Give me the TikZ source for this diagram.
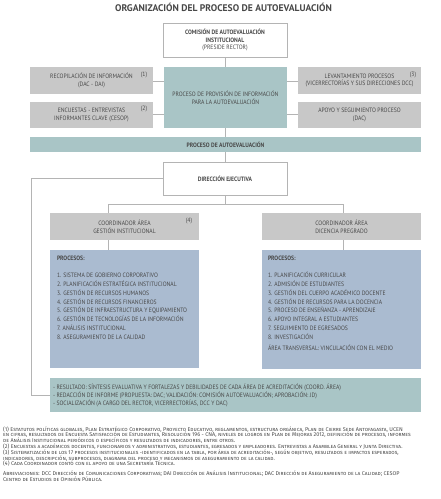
\documentclass[tikz,border=0pt]{standalone}
\usepackage{fontspec}
\newfontfamily\cnd[FakeStretch=0.9]{PT Sans}
\newfontfamily\ttl{PT Sans}
\newfontfamily\fnt[Letters=SmallCaps]{Fira Sans}
\definecolor{boxgray}{RGB}{200,200,200}
\definecolor{tealc}{RGB}{169,197,198}
\definecolor{bluec}{RGB}{170,187,208}
\definecolor{linec}{RGB}{180,180,180}
\definecolor{txtc}{RGB}{72,72,72}
\tikzset{
  bx/.style={inner sep=0pt, outer sep=0pt, align=center, font=\cnd\fontsize{6.3}{7.8}\selectfont, text=txtc},
  gbox/.style={bx, fill=boxgray},
  tbox/.style={bx, fill=tealc},
  bbox/.style={bx, fill=bluec},
  wbox/.style={bx, draw=linec, line width=0.8pt, fill=white},
  ln/.style={draw=linec, line width=0.8pt},
  lst/.style={inner sep=0pt, outer sep=0pt, align=left, anchor=north west, font=\cnd\fontsize{6.3}{8.8}\selectfont, text=txtc},
  note/.style={inner sep=0pt, font=\cnd\fontsize{6.3}{7}\selectfont, text=txtc},
  fn/.style={inner sep=0pt, anchor=base west, font=\fnt\fontsize{5.45}{5.8}\selectfont, text=txtc}
}
\begin{document}
\begin{tikzpicture}[x=1pt,y=-1pt]
\useasboundingbox (0,0) rectangle (440,499);
\node[inner sep=0pt, font=\ttl\bfseries\fontsize{9.6}{11}\selectfont, text=txtc] (title) at (223.5,7) {ORGANIZACIÓN DEL PROCESO DE AUTOEVALUACIÓN};

\node[wbox, minimum width=124pt, minimum height=34pt] (com) at (225,40) {\textbf{COMISIÓN DE AUTOEVALUACIÓN}\\\textbf{INSTITUCIONAL}\\(PRESIDE RECTOR)};

\node[gbox, minimum width=123pt, minimum height=27pt] (rec) at (91.5,80.5) {RECOPILACIÓN DE INFORMACIÓN\\(DAC - DAI)};
\node[gbox, minimum width=123pt, minimum height=26pt] (enc) at (91.5,115) {ENCUESTAS - ENTREVISTAS\\INFORMANTES CLAVE (CESOP)};
\node[tbox, minimum width=123pt, minimum height=61pt] (prov) at (225.5,97.5) {PROCESO DE PROVISIÓN DE INFORMACIÓN\\PARA LA AUTOEVALUACIÓN};
\node[gbox, minimum width=123pt, minimum height=27pt] (lev) at (359.5,80.5) {LEVANTAMIENTO PROCESOS\\(VICERRECTORÍAS Y SUS DIRECCIONES DCC)};
\node[gbox, minimum width=123pt, minimum height=26pt] (apo) at (359.5,115) {APOYO Y SEGUIMIENTO PROCESO\\(DAC)};
\node[note] (n1) at (144,75) {(1)};
\node[note] (n2) at (144,109) {(2)};
\node[note] (n3) at (413,75) {(3)};

\node[tbox, minimum width=391pt, minimum height=15pt] (bar) at (225.5,144.5) {\textbf{PROCESO DE AUTOEVALUACIÓN}};
\node[wbox, minimum width=124pt, minimum height=33pt] (dir) at (225,178.5) {\textbf{DIRECCIÓN EJECUTIVA}};

\node[gbox, minimum width=149pt, minimum height=27pt] (co1) at (124.5,226.5) {COORDINADOR ÁREA\\GESTIÓN INSTITUCIONAL};
\node[gbox, minimum width=159pt, minimum height=27pt] (co2) at (341.5,226.5) {COORDINADOR ÁREA\\DICENCIA PREGRADO};
\node[note] (n4) at (189,221) {(4)};

\node[bbox, minimum width=149pt, minimum height=118pt] (pr1) at (124.5,309) {};
\node[bbox, minimum width=159pt, minimum height=119pt] (pr2) at (341.5,309.5) {};
\node[lst] (l1) at (57,255.5) {\textbf{PROCESOS:}\\[8.8pt]
1. SISTEMA DE GOBIERNO CORPORATIVO\\
2. PLANIFICACIÓN ESTRATÉGICA INSTITUCIONAL\\
3. GESTIÓN DE RECURSOS HUMANOS\\
4. GESTIÓN DE RECURSOS FINANCIEROS\\
5. GESTIÓN DE INFRAESTRUCTURA Y EQUIPAMIENTO\\
6. GESTIÓN DE TECNOLOGÍAS DE LA INFORMACIÓN\\
7. ANÁLISIS INSTITUCIONAL\\
8. ASEGURAMIENTO DE LA CALIDAD};
\node[lst] (l2) at (268,255.5) {\textbf{PROCESOS:}\\[8.8pt]
1. PLANIFICACIÓN CURRICULAR\\
2. ADMISIÓN DE ESTUDIANTES\\
3. GESTIÓN DEL CUERPO ACADÉMICO DOCENTE\\
4. GESTIÓN DE RECURSOS PARA LA DOCENCIA\\
5. PROCESO DE ENSEÑANZA - APRENDIZAJE\\
6. APOYO INTEGRAL A ESTUDIANTES\\
7. SEGUIMIENTO DE EGRESADOS\\
8. INVESTIGACIÓN\\[2.5pt]
ÁREA TRANSVERSAL: VINCULACIÓN CON EL MEDIO};

\node[tbox, minimum width=371pt, minimum height=34pt] (res) at (235.5,395) {};
\node[lst, font=\cnd\fontsize{6.3}{8}\selectfont, anchor=west] (rt) at (53,395) {- RESULTADO: SÍNTESIS EVALUATIVA Y FORTALEZAS Y DEBILIDADES DE CADA ÁREA DE ACREDITACIÓN (COORD. ÁREA)\\
- REDACCIÓN DE INFORME (PROPUESTA: DAC; VALIDACIÓN: COMISIÓN AUTOEVALUACIÓN; APROBACIÓN: JD)\\
- SOCIALIZACIÓN (A CARGO DEL RECTOR, VICERRECTORÍAS, DCC Y DAC)};

% connectors
\draw[ln] (com.south) -- (com.south |- prov.north);
\draw[ln] (rec.east |- 0,81) -- (prov.west |- 0,81);
\draw[ln] (enc.east |- 0,114) -- (prov.west |- 0,114);
\draw[ln] (lev.west |- 0,81) -- (prov.east |- 0,81);
\draw[ln] (apo.west |- 0,114) -- (prov.east |- 0,114);
\draw[ln] (com.south |- prov.south) -- (com.south |- bar.north);
\draw[ln] (com.south |- bar.south) -- (dir.north);
\coordinate (j) at (225,204);
\coordinate (jl) at (108,204);
\coordinate (jr) at (343,204);
\draw[ln] (dir.south) -- (j);
\draw[ln] (jl) -- (jr);
\draw[ln] (jl) -- (jl |- co1.north);
\draw[ln] (jr) -- (jr |- co2.north);
\draw[ln] (jl |- co1.south) -- (jl |- pr1.north);
\draw[ln] (jr |- co2.south) -- (jr |- pr2.north);
\coordinate (lc) at (31,395);
\draw[ln] (dir.west) -| (lc) -- (res.west);

% footnotes
\node[fn] (f1) at (3,431) {(1) Estatutos políticas globales, Plan Estratégico Corporativo, Proyecto Educativo, reglamentos, estructura orgánica, Plan de Cierre Sede Antofagasta, UCEN};
\node[fn] (f2) at (3,436.8) {en cifras, resultados de Encuesta Satisfacción de Estudiantes, Resolución 196 - CNA, niveles de logros en Plan de Mejoras 2012, definición de procesos, informes};
\node[fn] (f3) at (3,442.6) {de Análisis Institucional periódicos o específicos y resultados de indicadores, entre otros.};
\node[fn] (f4) at (3,448.4) {(2) Encuestas a académicos docentes, funcionarios y administrativos, estudiantes, egresados y empleadores. Entrevistas a Asamblea General y Junta Directiva.};
\node[fn] (f5) at (3,454.2) {(3) Sistematización de los 17 procesos institucionales -identificados en la tabla, por área de acreditación-, según objetivo, resultados e impactos esperados,};
\node[fn] (f6) at (3,460) {indicadores, descripción, subprocesos, diagrama del proceso y mecanismos de aseguramiento de la calidad.};
\node[fn] (f7) at (3,465.8) {(4) Cada Coordinador contó con el apoyo de una Secretaría Técnica.};
\node[fn] (f8) at (3,475.5) {Abreviaciones: DCC Dirección de Comunicaciones Corporativas; DAI Dirección de Análisis Institucional; DAC Dirección de Aseguramiento de la Calidad; CESOP};
\node[fn] (f9) at (3,481.3) {Centro de Estudios de Opinión Pública.};
\end{tikzpicture}
\end{document}
